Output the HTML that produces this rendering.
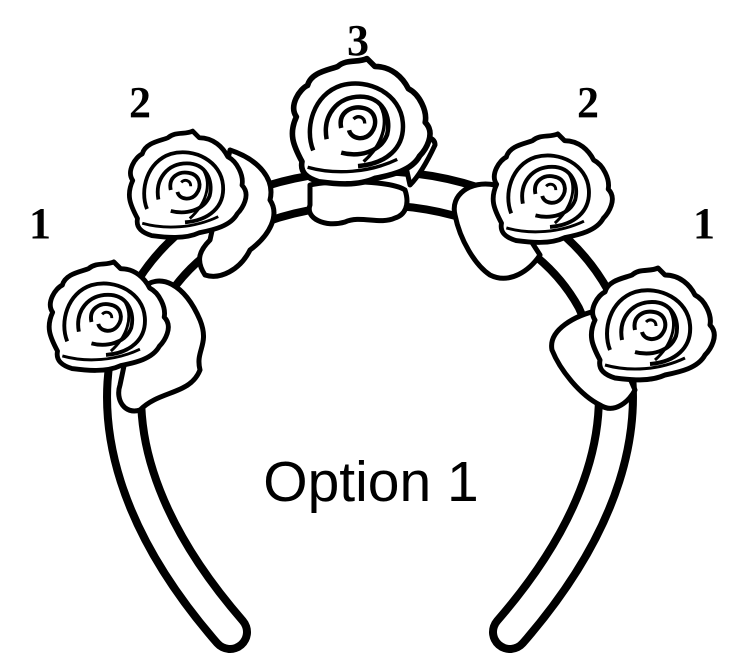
<!DOCTYPE html>
<html><head><style>
html,body{margin:0;padding:0;background:#fff;width:750px;height:658px;overflow:hidden}
</style></head><body>
<svg width="750" height="658" viewBox="0 0 750 658" xmlns="http://www.w3.org/2000/svg">
<defs>
<g id="rose">
  <path d="M-50,30 C-58,15 -62,5 -55,-10 C-62,-20 -52,-35 -45,-38 C-42,-50 -25,-52 -18,-55 C-10,-62 0,-58 8,-62 L15,-55 C30,-55 40,-45 45,-35 C55,-30 62,-15 60,-5 C70,5 60,20 55,25 C48,38 30,42 15,45 C0,52 -20,50 -35,48 C-45,45 -52,40 -50,30 Z" fill="#fff" stroke="#000" stroke-width="5" stroke-linejoin="round"/>
  <path d="M-40,20 C-48,0 -40,-30 -15,-38 C10,-45 38,-30 40,-5 C42,18 25,32 0,34" fill="none" stroke="#000" stroke-width="4"/>
  <path d="M-28,10 C-32,-12 -18,-28 2,-28 C22,-28 30,-10 26,6 C20,22 0,26 -15,22" fill="none" stroke="#000" stroke-width="4"/>
  <path d="M-15,0 C-18,-14 -6,-20 4,-18 C16,-16 18,-4 12,4 C6,12 -6,10 -8,2" fill="none" stroke="#000" stroke-width="4"/>
  <path d="M-4,-8 C0,-12 6,-10 6,-4" fill="none" stroke="#000" stroke-width="3"/>
  <path d="M-45,35 C-20,42 10,40 35,28" fill="none" stroke="#000" stroke-width="3"/>
  <path d="M20,-20 C28,-5 22,15 5,30" fill="none" stroke="#000" stroke-width="3"/>
</g>
</defs>
<path d="M230,632 C150,540 90,420 146,300 C190,220 280,188 370,188 C460,188 550,220 594,300 C650,420 590,540 510,632" fill="none" stroke="#000" stroke-width="42" stroke-linecap="round"/>
<path d="M230,632 C150,540 90,420 146,300 C190,220 280,188 370,188 C460,188 550,220 594,300 C650,420 590,540 510,632" fill="none" stroke="#fff" stroke-width="26" stroke-linecap="round"/>
<g fill="#fff" stroke="#000" stroke-width="5" stroke-linejoin="round">
<path d="M140,290 C160,270 185,285 200,320 C210,345 195,350 200,370 C190,395 160,390 140,410 C125,415 115,400 120,385 Z"/>
<path d="M230,150 C260,160 275,180 270,200 C280,215 270,235 250,250 C240,270 220,280 205,275 C195,260 200,250 210,240 Z"/>
<path d="M310,185 C330,180 390,180 405,190 C410,205 405,215 395,218 C380,225 360,215 345,222 C325,228 305,218 310,205 Z"/>
<path d="M400,140 C420,135 435,135 435,145 C428,160 420,175 410,185 Z"/>
<path d="M495,185 C470,180 450,195 455,215 C460,240 475,265 490,275 C510,285 530,270 540,255 Z"/>
<path d="M600,310 C575,315 548,330 552,350 C560,370 580,395 600,405 C615,415 630,400 635,390 Z"/>
</g>
<use href="#rose" transform="translate(106,322) scale(0.97)"/>
<use href="#rose" transform="translate(185,190) scale(0.95)"/>
<use href="#rose" transform="translate(358,128) scale(1.12)"/>
<use href="#rose" transform="translate(550,194) scale(0.97)"/>
<use href="#rose" transform="translate(650,330) scale(1.0)"/>
<g font-family="Liberation Serif, serif" font-weight="bold" font-size="44" text-anchor="middle">
<text x="40" y="238">1</text>
<text x="140" y="117">2</text>
<text x="358" y="55">3</text>
<text x="588" y="117">2</text>
<text x="704" y="238">1</text>
</g>
<text x="371" y="501" font-family="Liberation Sans, sans-serif" font-size="57" text-anchor="middle">Option 1</text>
</svg>
</body></html>
